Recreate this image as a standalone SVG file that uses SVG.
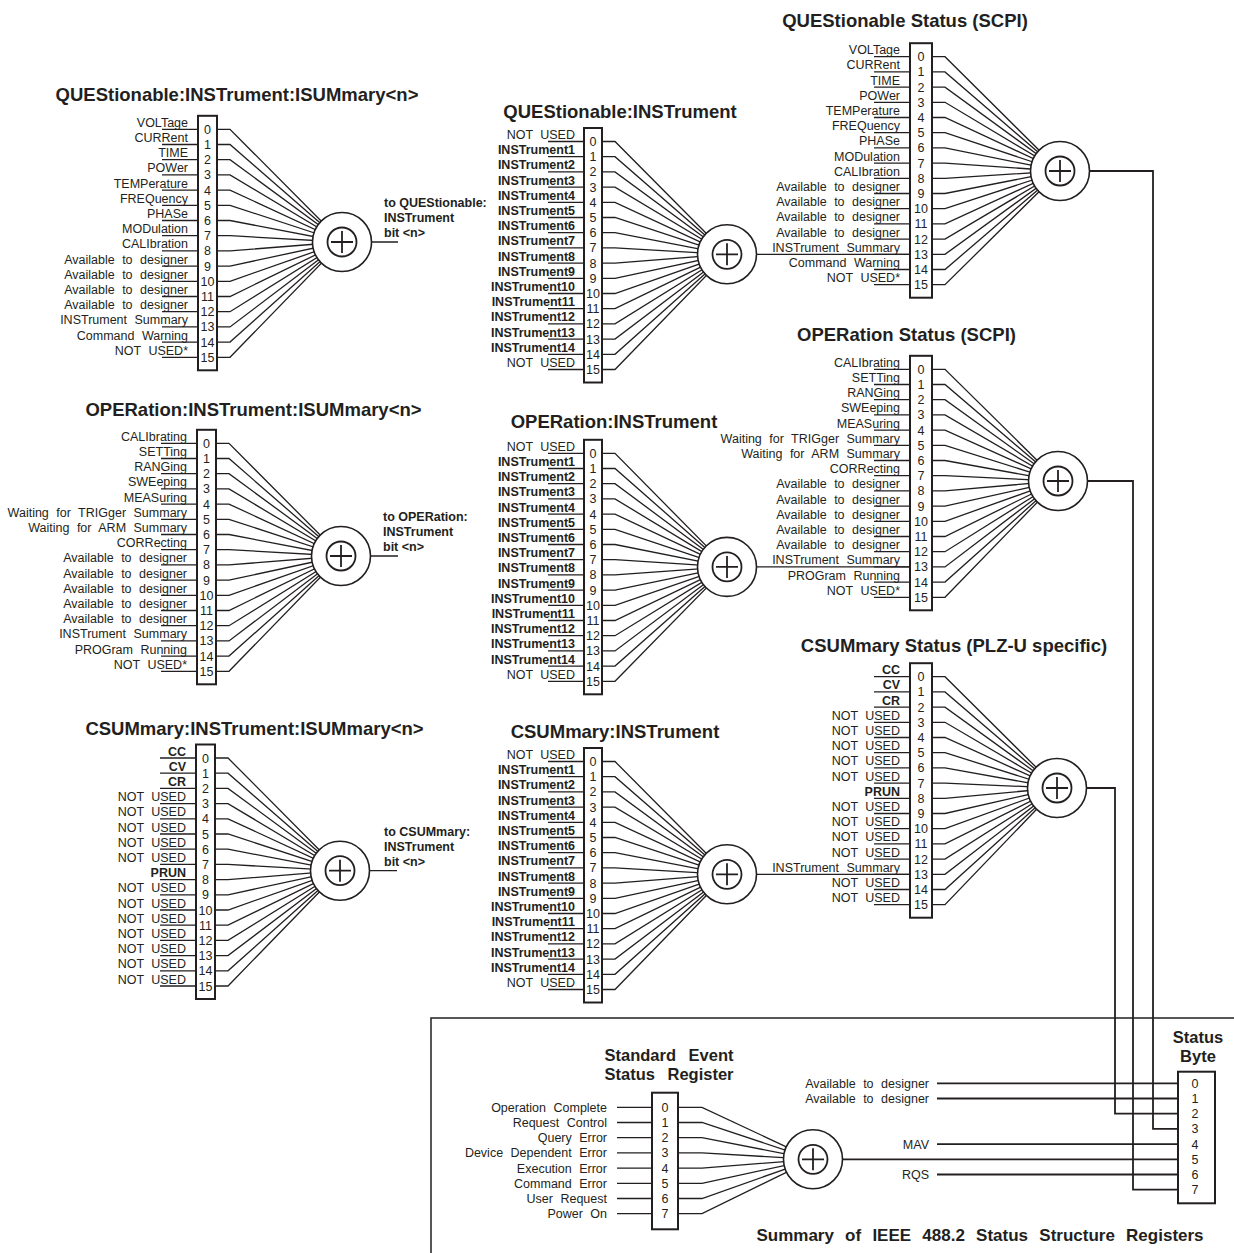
<svg xmlns="http://www.w3.org/2000/svg" xmlns:xlink="http://www.w3.org/1999/xlink" width="1234" height="1253" viewBox="0 0 1234 1253">
<style>
text{font-family:"Liberation Sans",Arial,Helvetica,sans-serif;fill:#231f20}
.ti{font-size:18.5px;font-weight:bold;text-anchor:middle}
.l{font-size:12.5px;text-anchor:end;word-spacing:4px}
.lb{font-size:12.5px;font-weight:bold;text-anchor:end}
.n{font-size:12.5px;text-anchor:middle}
.o{font-size:12.5px;font-weight:bold}
.st{font-size:16.5px;font-weight:bold;text-anchor:middle;word-spacing:8px}
.ln{fill:none;stroke:#231f20;stroke-width:1.3}
.rg{fill:#fff;stroke:#231f20;stroke-width:2}
.cn{fill:none;stroke:#231f20;stroke-width:1.8}
.bx{fill:none;stroke:#231f20;stroke-width:1.5}
</style>
<defs>
<g id="sum">
<circle r="29.5" fill="#fff" stroke="#231f20" stroke-width="1.6"/>
<circle r="14.5" fill="none" stroke="#231f20" stroke-width="1.8"/>
<path d="M-11 0H11M0-11V11" stroke="#231f20" stroke-width="1.8"/>
</g>
<path id="ll36" d="M-36 0H0M-36 15.2H0M-36 30.4H0M-36 45.6H0M-36 60.8H0M-36 76H0M-36 91.2H0M-36 106.4H0M-36 121.6H0M-36 136.8H0M-36 152H0M-36 167.2H0M-36 182.4H0M-36 197.6H0M-36 212.8H0M-36 228H0"/>
<g id="num16">
<text class="n" y="4.5">0</text><text class="n" y="19.7">1</text><text class="n" y="34.9">2</text><text class="n" y="50.1">3</text><text class="n" y="65.3">4</text><text class="n" y="80.5">5</text><text class="n" y="95.7">6</text><text class="n" y="110.9">7</text><text class="n" y="126.1">8</text><text class="n" y="141.3">9</text><text class="n" y="156.5">10</text><text class="n" y="171.7">11</text><text class="n" y="186.9">12</text><text class="n" y="202.1">13</text><text class="n" y="217.3">14</text><text class="n" y="232.5">15</text>
</g>
</defs>

<g id="connectors">
<path class="ln" d="M342 242H398M341 556H398M340 870.7H397"/>
<path class="ln" d="M727 254.3H910M727 566.9H910M727 874.3H910"/>
<path class="cn" d="M1060 171H1153V1128.9H1178M1058 481H1133V1189.7H1178M1057 788H1115V1113.7H1178"/>
<path class="cn" d="M813 1159.3H1178"/>
<path class="cn" d="M937 1083.3H1178M937 1098.5H1178M937 1144.1H1178M937 1174.5H1178"/>
</g>

<path id="frame" class="bx" d="M431 1253V1018H1234"/>

<!-- QUEStionable:INSTrument:ISUMmary<n> -->
<g id="ques-isum">
<text class="ti" x="237" y="101">QUEStionable:INSTrument:ISUMmary&lt;n&gt;</text>
<g transform="translate(198,129.3)">
<use xlink:href="#ll36" class="ln"/>
<path class="ln" d="M19 0H32L144 112.7M19 15.2H32L144 112.7M19 30.4H32L144 112.7M19 45.6H32L144 112.7M19 60.8H32L144 112.7M19 76H32L144 112.7M19 91.2H32L144 112.7M19 106.4H32L144 112.7M19 121.6H32L144 112.7M19 136.8H32L144 112.7M19 152H32L144 112.7M19 167.2H32L144 112.7M19 182.4H32L144 112.7M19 197.6H32L144 112.7M19 212.8H32L144 112.7M19 228H32L144 112.7"/>
<rect class="rg" x="0" y="-13.5" width="19" height="254.5"/>
<use xlink:href="#num16" x="9.5"/>
<text class="l" x="-10" y="-2.5">VOLTage</text>
<text class="l" x="-10" y="12.7">CURRent</text>
<text class="l" x="-10" y="27.9">TIME</text>
<text class="l" x="-10" y="43.1">POWer</text>
<text class="l" x="-10" y="58.3">TEMPerature</text>
<text class="l" x="-10" y="73.5">FREQuency</text>
<text class="l" x="-10" y="88.7">PHASe</text>
<text class="l" x="-10" y="103.9">MODulation</text>
<text class="l" x="-10" y="119.1">CALIbration</text>
<text class="l" x="-10" y="134.3">Available to designer</text>
<text class="l" x="-10" y="149.5">Available to designer</text>
<text class="l" x="-10" y="164.7">Available to designer</text>
<text class="l" x="-10" y="179.9">Available to designer</text>
<text class="l" x="-10" y="195.1">INSTrument Summary</text>
<text class="l" x="-10" y="210.3">Command Warning</text>
<text class="l" x="-10" y="225.5">NOT USED*</text>
<use xlink:href="#sum" x="144" y="112.7"/>
<text class="o" x="186" y="78">to QUEStionable:</text>
<text class="o" x="186" y="93">INSTrument</text>
<text class="o" x="186" y="107.5">bit &lt;n&gt;</text>
</g>
</g>

<!-- OPERation:INSTrument:ISUMmary<n> -->
<g id="oper-isum">
<text class="ti" x="253.5" y="416">OPERation:INSTrument:ISUMmary&lt;n&gt;</text>
<g transform="translate(197,443.3)">
<use xlink:href="#ll36" class="ln"/>
<path class="ln" d="M19 0H32L144 112.7M19 15.2H32L144 112.7M19 30.4H32L144 112.7M19 45.6H32L144 112.7M19 60.8H32L144 112.7M19 76H32L144 112.7M19 91.2H32L144 112.7M19 106.4H32L144 112.7M19 121.6H32L144 112.7M19 136.8H32L144 112.7M19 152H32L144 112.7M19 167.2H32L144 112.7M19 182.4H32L144 112.7M19 197.6H32L144 112.7M19 212.8H32L144 112.7M19 228H32L144 112.7"/>
<rect class="rg" x="0" y="-13.5" width="19" height="254.5"/>
<use xlink:href="#num16" x="9.5"/>
<text class="l" x="-10" y="-2.5">CALIbrating</text>
<text class="l" x="-10" y="12.7">SETTing</text>
<text class="l" x="-10" y="27.9">RANGing</text>
<text class="l" x="-10" y="43.1">SWEeping</text>
<text class="l" x="-10" y="58.3">MEASuring</text>
<text class="l" x="-10" y="73.5">Waiting for TRIGger Summary</text>
<text class="l" x="-10" y="88.7">Waiting for ARM Summary</text>
<text class="l" x="-10" y="103.9">CORRecting</text>
<text class="l" x="-10" y="119.1">Available to designer</text>
<text class="l" x="-10" y="134.3">Available to designer</text>
<text class="l" x="-10" y="149.5">Available to designer</text>
<text class="l" x="-10" y="164.7">Available to designer</text>
<text class="l" x="-10" y="179.9">Available to designer</text>
<text class="l" x="-10" y="195.1">INSTrument Summary</text>
<text class="l" x="-10" y="210.3">PROGram Running</text>
<text class="l" x="-10" y="225.5">NOT USED*</text>
<use xlink:href="#sum" x="144" y="112.7"/>
<text class="o" x="186" y="78">to OPERation:</text>
<text class="o" x="186" y="93">INSTrument</text>
<text class="o" x="186" y="107.5">bit &lt;n&gt;</text>
</g>
</g>

<!-- CSUMmary:INSTrument:ISUMmary<n> -->
<g id="csum-isum">
<text class="ti" x="254.5" y="735">CSUMmary:INSTrument:ISUMmary&lt;n&gt;</text>
<g transform="translate(196,758)">
<use xlink:href="#ll36" class="ln"/>
<path class="ln" d="M19 0H32L144 112.7M19 15.2H32L144 112.7M19 30.4H32L144 112.7M19 45.6H32L144 112.7M19 60.8H32L144 112.7M19 76H32L144 112.7M19 91.2H32L144 112.7M19 106.4H32L144 112.7M19 121.6H32L144 112.7M19 136.8H32L144 112.7M19 152H32L144 112.7M19 167.2H32L144 112.7M19 182.4H32L144 112.7M19 197.6H32L144 112.7M19 212.8H32L144 112.7M19 228H32L144 112.7"/>
<rect class="rg" x="0" y="-13.5" width="19" height="254.5"/>
<use xlink:href="#num16" x="9.5"/>
<text class="lb" x="-10" y="-2.5">CC</text>
<text class="lb" x="-10" y="12.7">CV</text>
<text class="lb" x="-10" y="27.9">CR</text>
<text class="l" x="-10" y="43.1">NOT USED</text>
<text class="l" x="-10" y="58.3">NOT USED</text>
<text class="l" x="-10" y="73.5">NOT USED</text>
<text class="l" x="-10" y="88.7">NOT USED</text>
<text class="l" x="-10" y="103.9">NOT USED</text>
<text class="lb" x="-10" y="119.1">PRUN</text>
<text class="l" x="-10" y="134.3">NOT USED</text>
<text class="l" x="-10" y="149.5">NOT USED</text>
<text class="l" x="-10" y="164.7">NOT USED</text>
<text class="l" x="-10" y="179.9">NOT USED</text>
<text class="l" x="-10" y="195.1">NOT USED</text>
<text class="l" x="-10" y="210.3">NOT USED</text>
<text class="l" x="-10" y="225.5">NOT USED</text>
<use xlink:href="#sum" x="144" y="112.7"/>
<text class="o" x="188" y="78">to CSUMmary:</text>
<text class="o" x="188" y="93">INSTrument</text>
<text class="o" x="188" y="107.5">bit &lt;n&gt;</text>
</g>
</g>

<!-- QUEStionable:INSTrument -->
<g id="ques-inst">
<text class="ti" x="620" y="118">QUEStionable:INSTrument</text>
<g transform="translate(584,141.5)">
<use xlink:href="#ll36" class="ln"/>
<path class="ln" d="M18 0H31L143 112.8M18 15.2H31L143 112.8M18 30.4H31L143 112.8M18 45.6H31L143 112.8M18 60.8H31L143 112.8M18 76H31L143 112.8M18 91.2H31L143 112.8M18 106.4H31L143 112.8M18 121.6H31L143 112.8M18 136.8H31L143 112.8M18 152H31L143 112.8M18 167.2H31L143 112.8M18 182.4H31L143 112.8M18 197.6H31L143 112.8M18 212.8H31L143 112.8M18 228H31L143 112.8"/>
<rect class="rg" x="0" y="-13.5" width="18" height="254.5"/>
<use xlink:href="#num16" x="9"/>
<text class="l" x="-9" y="-2.5">NOT USED</text>
<text class="lb" x="-9" y="12.7">INSTrument1</text>
<text class="lb" x="-9" y="27.9">INSTrument2</text>
<text class="lb" x="-9" y="43.1">INSTrument3</text>
<text class="lb" x="-9" y="58.3">INSTrument4</text>
<text class="lb" x="-9" y="73.5">INSTrument5</text>
<text class="lb" x="-9" y="88.7">INSTrument6</text>
<text class="lb" x="-9" y="103.9">INSTrument7</text>
<text class="lb" x="-9" y="119.1">INSTrument8</text>
<text class="lb" x="-9" y="134.3">INSTrument9</text>
<text class="lb" x="-9" y="149.5">INSTrument10</text>
<text class="lb" x="-9" y="164.7">INSTrument11</text>
<text class="lb" x="-9" y="179.9">INSTrument12</text>
<text class="lb" x="-9" y="195.1">INSTrument13</text>
<text class="lb" x="-9" y="210.3">INSTrument14</text>
<text class="l" x="-9" y="225.5">NOT USED</text>
<use xlink:href="#sum" x="143" y="112.8"/>
</g>
</g>

<!-- OPERation:INSTrument -->
<g id="oper-inst">
<text class="ti" x="614" y="428">OPERation:INSTrument</text>
<g transform="translate(584,453.3)">
<use xlink:href="#ll36" class="ln"/>
<path class="ln" d="M18 0H31L143 113.6M18 15.2H31L143 113.6M18 30.4H31L143 113.6M18 45.6H31L143 113.6M18 60.8H31L143 113.6M18 76H31L143 113.6M18 91.2H31L143 113.6M18 106.4H31L143 113.6M18 121.6H31L143 113.6M18 136.8H31L143 113.6M18 152H31L143 113.6M18 167.2H31L143 113.6M18 182.4H31L143 113.6M18 197.6H31L143 113.6M18 212.8H31L143 113.6M18 228H31L143 113.6"/>
<rect class="rg" x="0" y="-13.5" width="18" height="254.5"/>
<use xlink:href="#num16" x="9"/>
<text class="l" x="-9" y="-2.5">NOT USED</text>
<text class="lb" x="-9" y="12.7">INSTrument1</text>
<text class="lb" x="-9" y="27.9">INSTrument2</text>
<text class="lb" x="-9" y="43.1">INSTrument3</text>
<text class="lb" x="-9" y="58.3">INSTrument4</text>
<text class="lb" x="-9" y="73.5">INSTrument5</text>
<text class="lb" x="-9" y="88.7">INSTrument6</text>
<text class="lb" x="-9" y="103.9">INSTrument7</text>
<text class="lb" x="-9" y="119.1">INSTrument8</text>
<text class="lb" x="-9" y="134.3">INSTrument9</text>
<text class="lb" x="-9" y="149.5">INSTrument10</text>
<text class="lb" x="-9" y="164.7">INSTrument11</text>
<text class="lb" x="-9" y="179.9">INSTrument12</text>
<text class="lb" x="-9" y="195.1">INSTrument13</text>
<text class="lb" x="-9" y="210.3">INSTrument14</text>
<text class="l" x="-9" y="225.5">NOT USED</text>
<use xlink:href="#sum" x="143" y="113.6"/>
</g>
</g>

<!-- CSUMmary:INSTrument -->
<g id="csum-inst">
<text class="ti" x="615" y="738">CSUMmary:INSTrument</text>
<g transform="translate(584,761.5)">
<use xlink:href="#ll36" class="ln"/>
<path class="ln" d="M18 0H31L143 112.8M18 15.2H31L143 112.8M18 30.4H31L143 112.8M18 45.6H31L143 112.8M18 60.8H31L143 112.8M18 76H31L143 112.8M18 91.2H31L143 112.8M18 106.4H31L143 112.8M18 121.6H31L143 112.8M18 136.8H31L143 112.8M18 152H31L143 112.8M18 167.2H31L143 112.8M18 182.4H31L143 112.8M18 197.6H31L143 112.8M18 212.8H31L143 112.8M18 228H31L143 112.8"/>
<rect class="rg" x="0" y="-13.5" width="18" height="254.5"/>
<use xlink:href="#num16" x="9"/>
<text class="l" x="-9" y="-2.5">NOT USED</text>
<text class="lb" x="-9" y="12.7">INSTrument1</text>
<text class="lb" x="-9" y="27.9">INSTrument2</text>
<text class="lb" x="-9" y="43.1">INSTrument3</text>
<text class="lb" x="-9" y="58.3">INSTrument4</text>
<text class="lb" x="-9" y="73.5">INSTrument5</text>
<text class="lb" x="-9" y="88.7">INSTrument6</text>
<text class="lb" x="-9" y="103.9">INSTrument7</text>
<text class="lb" x="-9" y="119.1">INSTrument8</text>
<text class="lb" x="-9" y="134.3">INSTrument9</text>
<text class="lb" x="-9" y="149.5">INSTrument10</text>
<text class="lb" x="-9" y="164.7">INSTrument11</text>
<text class="lb" x="-9" y="179.9">INSTrument12</text>
<text class="lb" x="-9" y="195.1">INSTrument13</text>
<text class="lb" x="-9" y="210.3">INSTrument14</text>
<text class="l" x="-9" y="225.5">NOT USED</text>
<use xlink:href="#sum" x="143" y="112.8"/>
</g>
</g>

<!-- QUEStionable Status (SCPI) -->
<g id="ques-status">
<text class="ti" x="905" y="27">QUEStionable Status (SCPI)</text>
<g transform="translate(910,56.7)">
<use xlink:href="#ll36" class="ln"/>
<path class="ln" d="M22 0H35L150 114.3M22 15.2H35L150 114.3M22 30.4H35L150 114.3M22 45.6H35L150 114.3M22 60.8H35L150 114.3M22 76H35L150 114.3M22 91.2H35L150 114.3M22 106.4H35L150 114.3M22 121.6H35L150 114.3M22 136.8H35L150 114.3M22 152H35L150 114.3M22 167.2H35L150 114.3M22 182.4H35L150 114.3M22 197.6H35L150 114.3M22 212.8H35L150 114.3M22 228H35L150 114.3"/>
<rect class="rg" x="0" y="-13.5" width="22" height="254.5"/>
<use xlink:href="#num16" x="11"/>
<text class="l" x="-10" y="-2.5">VOLTage</text>
<text class="l" x="-10" y="12.7">CURRent</text>
<text class="l" x="-10" y="27.9">TIME</text>
<text class="l" x="-10" y="43.1">POWer</text>
<text class="l" x="-10" y="58.3">TEMPerature</text>
<text class="l" x="-10" y="73.5">FREQuency</text>
<text class="l" x="-10" y="88.7">PHASe</text>
<text class="l" x="-10" y="103.9">MODulation</text>
<text class="l" x="-10" y="119.1">CALIbration</text>
<text class="l" x="-10" y="134.3">Available to designer</text>
<text class="l" x="-10" y="149.5">Available to designer</text>
<text class="l" x="-10" y="164.7">Available to designer</text>
<text class="l" x="-10" y="179.9">Available to designer</text>
<text class="l" x="-10" y="195.1">INSTrument Summary</text>
<text class="l" x="-10" y="210.3">Command Warning</text>
<text class="l" x="-10" y="225.5">NOT USED*</text>
<use xlink:href="#sum" x="150" y="114.3"/>
</g>
</g>

<!-- OPERation Status (SCPI) -->
<g id="oper-status">
<text class="ti" x="906.5" y="341">OPERation Status (SCPI)</text>
<g transform="translate(910,369.3)">
<use xlink:href="#ll36" class="ln"/>
<path class="ln" d="M22 0H35L148 111.7M22 15.2H35L148 111.7M22 30.4H35L148 111.7M22 45.6H35L148 111.7M22 60.8H35L148 111.7M22 76H35L148 111.7M22 91.2H35L148 111.7M22 106.4H35L148 111.7M22 121.6H35L148 111.7M22 136.8H35L148 111.7M22 152H35L148 111.7M22 167.2H35L148 111.7M22 182.4H35L148 111.7M22 197.6H35L148 111.7M22 212.8H35L148 111.7M22 228H35L148 111.7"/>
<rect class="rg" x="0" y="-13.5" width="22" height="254.5"/>
<use xlink:href="#num16" x="11"/>
<text class="l" x="-10" y="-2.5">CALIbrating</text>
<text class="l" x="-10" y="12.7">SETTing</text>
<text class="l" x="-10" y="27.9">RANGing</text>
<text class="l" x="-10" y="43.1">SWEeping</text>
<text class="l" x="-10" y="58.3">MEASuring</text>
<text class="l" x="-10" y="73.5">Waiting for TRIGger Summary</text>
<text class="l" x="-10" y="88.7">Waiting for ARM Summary</text>
<text class="l" x="-10" y="103.9">CORRecting</text>
<text class="l" x="-10" y="119.1">Available to designer</text>
<text class="l" x="-10" y="134.3">Available to designer</text>
<text class="l" x="-10" y="149.5">Available to designer</text>
<text class="l" x="-10" y="164.7">Available to designer</text>
<text class="l" x="-10" y="179.9">Available to designer</text>
<text class="l" x="-10" y="195.1">INSTrument Summary</text>
<text class="l" x="-10" y="210.3">PROGram Running</text>
<text class="l" x="-10" y="225.5">NOT USED*</text>
<use xlink:href="#sum" x="148" y="111.7"/>
</g>
</g>

<!-- CSUMmary Status (PLZ-U specific) -->
<g id="csum-status">
<text class="ti" x="954" y="652">CSUMmary Status (PLZ-U specific)</text>
<g transform="translate(910,676.7)">
<use xlink:href="#ll36" class="ln"/>
<path class="ln" d="M22 0H35L147 111.3M22 15.2H35L147 111.3M22 30.4H35L147 111.3M22 45.6H35L147 111.3M22 60.8H35L147 111.3M22 76H35L147 111.3M22 91.2H35L147 111.3M22 106.4H35L147 111.3M22 121.6H35L147 111.3M22 136.8H35L147 111.3M22 152H35L147 111.3M22 167.2H35L147 111.3M22 182.4H35L147 111.3M22 197.6H35L147 111.3M22 212.8H35L147 111.3M22 228H35L147 111.3"/>
<rect class="rg" x="0" y="-13.5" width="22" height="254.5"/>
<use xlink:href="#num16" x="11"/>
<text class="lb" x="-10" y="-2.5">CC</text>
<text class="lb" x="-10" y="12.7">CV</text>
<text class="lb" x="-10" y="27.9">CR</text>
<text class="l" x="-10" y="43.1">NOT USED</text>
<text class="l" x="-10" y="58.3">NOT USED</text>
<text class="l" x="-10" y="73.5">NOT USED</text>
<text class="l" x="-10" y="88.7">NOT USED</text>
<text class="l" x="-10" y="103.9">NOT USED</text>
<text class="lb" x="-10" y="119.1">PRUN</text>
<text class="l" x="-10" y="134.3">NOT USED</text>
<text class="l" x="-10" y="149.5">NOT USED</text>
<text class="l" x="-10" y="164.7">NOT USED</text>
<text class="l" x="-10" y="179.9">NOT USED</text>
<text class="l" x="-10" y="195.1">INSTrument Summary</text>
<text class="l" x="-10" y="210.3">NOT USED</text>
<text class="l" x="-10" y="225.5">NOT USED</text>
<use xlink:href="#sum" x="147" y="111.3"/>
</g>
</g>

<!-- Standard Event Status Register -->
<g id="std-event">
<text class="st" x="669" y="1061">Standard Event</text>
<text class="st" x="669" y="1080">Status Register</text>
<g transform="translate(652,1107.3)">
<path class="ln" d="M-35 0H0M-35 15.2H0M-35 30.4H0M-35 45.6H0M-35 60.8H0M-35 76H0M-35 91.2H0M-35 106.4H0"/>
<path class="ln" d="M26 0H50L161 52M26 15.2H50L161 52M26 30.4H50L161 52M26 45.6H50L161 52M26 60.8H50L161 52M26 76H50L161 52M26 91.2H50L161 52M26 106.4H50L161 52"/>
<rect class="rg" x="0" y="-14.6" width="26" height="136.6"/>
<text class="n" x="13" y="4.5">0</text><text class="n" x="13" y="19.7">1</text><text class="n" x="13" y="34.9">2</text><text class="n" x="13" y="50.1">3</text><text class="n" x="13" y="65.3">4</text><text class="n" x="13" y="80.5">5</text><text class="n" x="13" y="95.7">6</text><text class="n" x="13" y="110.9">7</text>
<text class="l" x="-45" y="4.5">Operation Complete</text>
<text class="l" x="-45" y="19.7">Request Control</text>
<text class="l" x="-45" y="34.9">Query Error</text>
<text class="l" x="-45" y="50.1">Device Dependent Error</text>
<text class="l" x="-45" y="65.3">Execution Error</text>
<text class="l" x="-45" y="80.5">Command Error</text>
<text class="l" x="-45" y="95.7">User Request</text>
<text class="l" x="-45" y="110.9">Power On</text>
<use xlink:href="#sum" x="161" y="52"/>
</g>
</g>

<!-- Status Byte -->
<g id="status-byte">
<text class="st" x="1198" y="1043">Status</text>
<text class="st" x="1198" y="1062">Byte</text>
<text class="l" x="929" y="1087.8">Available to designer</text>
<text class="l" x="929" y="1103">Available to designer</text>
<text class="l" x="929" y="1148.6">MAV</text>
<text class="l" x="929" y="1179">RQS</text>
<g transform="translate(1178,1083.3)">
<rect class="rg" x="0" y="-11.6" width="37" height="131.6"/>
<text class="n" x="17" y="4.5">0</text><text class="n" x="17" y="19.7">1</text><text class="n" x="17" y="34.9">2</text><text class="n" x="17" y="50.1">3</text><text class="n" x="17" y="65.3">4</text><text class="n" x="17" y="80.5">5</text><text class="n" x="17" y="95.7">6</text><text class="n" x="17" y="110.9">7</text>
</g>
</g>

<text class="st" x="980" y="1241" style="font-size:17px;word-spacing:6.5px">Summary of IEEE 488.2 Status Structure Registers</text>
</svg>
